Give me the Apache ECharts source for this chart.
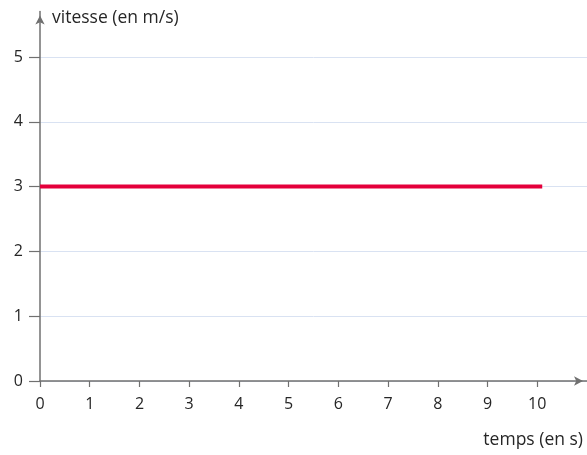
<!DOCTYPE html>
<html>
<head>
<meta charset="utf-8">
<script src="https://cdn.jsdelivr.net/npm/echarts@6/dist/echarts.min.js"></script>
<style>
  html, body { margin: 0; padding: 0; background: #fff; }
  #chart { width: 587px; height: 455px; }
</style>
</head>
<body>
<div id="chart"></div>
<script>
// ticks on each axis
const xTicks = [0, 1, 2, 3, 4, 5, 6, 7, 8, 9, 10];
const yTicks = [0, 1, 2, 3, 4, 5];
// constant speed of 3 m/s from t = 0 to a little past 10 s
const timeValues = [0, 10.1];
const speedValues = [3, 3];

const chart = echarts.init(document.getElementById('chart'));
const font = '"Open Sans", "DejaVu Sans", sans-serif';
const axisColor = '#707070';
const textColor = '#262626';

const option = {
  animation: false,
  grid: { left: 40, right: 0, top: 11.6, bottom: 74, containLabel: false },
  xAxis: {
    type: 'value',
    min: 0,
    max: 11,
    name: 'temps (en s)',
    nameLocation: 'end',
    nameGap: -4,
    nameTextStyle: {
      fontFamily: font, fontSize: 17.5, color: textColor,
      align: 'right', verticalAlign: 'top', padding: [50, 0, 0, 0]
    },
    axisLine: {
      show: true,
      lineStyle: { color: axisColor, width: 1.5 },
      symbol: ['none', 'arrow'],
      symbolSize: [7, 9],
      symbolOffset: [0, -4]
    },
    axisTick: { show: true, inside: false, length: 6, customValues: xTicks, lineStyle: { color: axisColor, width: 1.2 } },
    axisLabel: { customValues: xTicks, margin: 15, fontFamily: font, fontSize: 16, color: textColor },
    splitLine: { show: false }
  },
  yAxis: {
    type: 'value',
    min: 0,
    max: 5.7,
    name: 'vitesse (en m/s)',
    nameLocation: 'end',
    nameGap: -6,
    nameTextStyle: {
      fontFamily: font, fontSize: 17.5, color: textColor,
      align: 'left', verticalAlign: 'middle', padding: [0, 0, 0, 12]
    },
    axisLine: {
      show: true,
      lineStyle: { color: axisColor, width: 1.5 },
      symbol: ['none', 'arrow'],
      symbolSize: [7, 9],
      symbolOffset: [0, -4]
    },
    axisTick: { show: true, inside: false, length: 11, customValues: yTicks, lineStyle: { color: axisColor, width: 1.2 } },
    axisLabel: { customValues: yTicks, margin: 17, fontFamily: font, fontSize: 16, color: textColor },
    splitLine: { show: true, lineStyle: { color: '#d9e2f2', width: 1 } }
  },
  series: [
    {
      type: 'line',
      data: timeValues.map((t, i) => [t, speedValues[i]]),
      symbol: 'none',
      lineStyle: { color: '#e4003b', width: 4 },
      z: 5
    }
  ]
};

chart.setOption(option);
</script>
</body>
</html>
